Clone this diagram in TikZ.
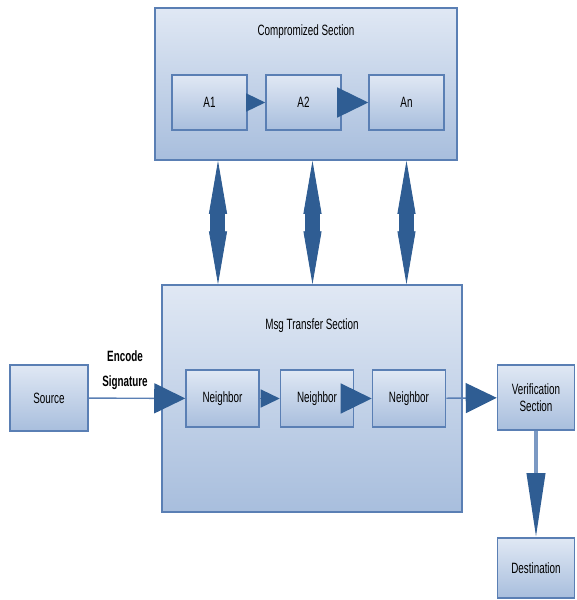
\documentclass[tikz,border=0pt]{standalone}
\usepackage{fontspec}
\setmainfont{Liberation Sans}
\newfontfamily\narrowfont[FakeStretch=0.66]{Liberation Sans}
\usetikzlibrary{arrows.meta}
\definecolor{box-top}{HTML}{E0E8F4}
\definecolor{box-bot}{HTML}{A8BEDD}
\definecolor{box-line}{HTML}{5A7FB4}
\definecolor{head-blue}{HTML}{2F5D93}

\begin{document}
\begin{tikzpicture}[x=0.02cm, y=-0.02cm,
      every node/.style={font=\narrowfont\fontsize{8.5}{10}\selectfont},
      block/.style={draw=box-line, line width=0.9pt, top color=box-top, bottom color=box-bot,
                    minimum width=#1, align=center, inner sep=1pt},
      link/.style={draw=box-line, line width=0.8pt},
      tipS/.style={link, -{Triangle[length=0.38cm, width=0.36cm, color=head-blue]}},
      tipL/.style={link, -{Triangle[length=0.62cm, width=0.6cm, color=head-blue]}},
      tipV/.style={draw=box-line!80, line width=2.2pt,
                   -{Triangle[length=1.28cm, width=0.36cm, color=head-blue]}},
      both/.style={draw=head-blue, line width=0.5pt,
                   {Triangle[length=1.06cm, width=0.36cm]}-{Triangle[length=1.06cm, width=0.36cm]},
                   postaction={draw=head-blue, arrows=-, line width=0.3cm,
                               shorten <=1.0cm, shorten >=1.0cm}}]

    \useasboundingbox (0,0) rectangle (577,600);

    % top section
    \node[block=6.04cm, minimum height=3.04cm] (comp) at (306,84) {};
    \node (compT) at (306,32) {Compromized Section};
    \node[block=1.5cm, minimum height=1.1cm] (A1) at (209.5,102.5) {A1};
    \node[block=1.5cm, minimum height=1.1cm] (A2) at (303.5,102.5) {A2};
    \node[block=1.5cm, minimum height=1.1cm] (An) at (406.5,102.5) {An};

    % middle section
    \node[block=6cm, minimum height=4.54cm] (msg) at (312,398.5) {};
    \node (msgT) at (312,326) {Msg Transfer Section};
    \node[block=1.46cm, minimum height=1.14cm] (N1) at (222.5,398.5) {Neighbor};
    \node[block=1.46cm, minimum height=1.14cm] (N2) at (317,398.5) {Neighbor};
    \node[block=1.46cm, minimum height=1.14cm] (N3) at (409,398.5) {Neighbor};

    % ends
    \node[block=1.56cm, minimum height=1.32cm] (src) at (49,398) {Source};
    \node[block=1.54cm, minimum height=1.3cm] (ver) at (536,397.5) {Verification\\Section};
    \node[block=1.54cm, minimum height=1.2cm] (dst) at (536,568) {Destination};
    \node[font=\narrowfont\bfseries\fontsize{8.5}{14}\selectfont, align=center] (enc) at (125,370) {Encode\\Signature};

    % chains
    \draw[tipS] (A1) -- (A2);
    \draw[tipL] (A2) -- (An);
    \draw[tipS] (N1) -- (N2);
    \draw[tipL] (N2) -- (N3);
    \draw[tipL] (src) -- (N1);
    \draw[tipL] (N3) -- (ver);
    \draw[tipV] (ver) -- (dst);

    % links between the sections
    \draw[both] ([xshift=0.17cm]A1.south |- comp.south) -- ([xshift=0.17cm]A1.south |- msg.north);
    \draw[both] ([xshift=0.18cm]A2.south |- comp.south) -- ([xshift=0.18cm]A2.south |- msg.north);
    \draw[both] (An.south |- comp.south) -- (An.south |- msg.north);
  \end{tikzpicture}
\end{document}
